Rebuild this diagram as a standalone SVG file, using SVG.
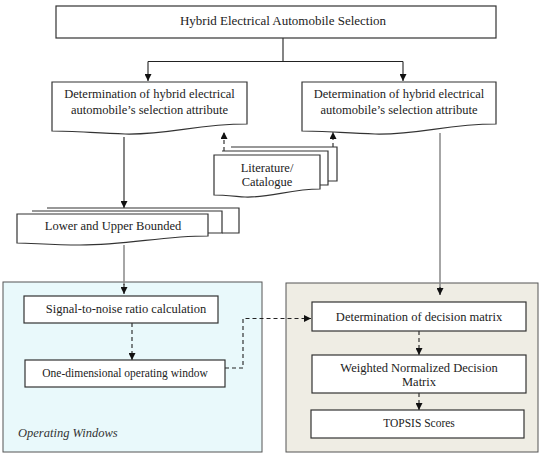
<svg xmlns="http://www.w3.org/2000/svg" width="540" height="456" viewBox="0 0 540 456">
<defs>
<marker id="ah" viewBox="0 0 8 8" refX="8" refY="4" markerWidth="7" markerHeight="7" markerUnits="userSpaceOnUse" orient="auto">
<path d="M0,0 L8,4 L0,8 Z" fill="#111"/>
</marker>
</defs>
<style>
.box{fill:#fff;stroke:#333;stroke-width:1.2}
.t{font-family:"Liberation Serif","Times New Roman",serif;font-size:12.5px;fill:#222;text-anchor:middle}
.ln{fill:none;stroke:#222;stroke-width:1.1}
.gl{fill:none;stroke:#888;stroke-width:1.5}
.dash{fill:none;stroke:#222;stroke-width:1.1;stroke-dasharray:4,3}
</style>
<rect x="3" y="282" width="259" height="170" fill="#e9f9fb" stroke="#555" stroke-width="1"/>
<rect x="286" y="283" width="252" height="169" fill="#efede4" stroke="#555" stroke-width="1"/>
<g id="connectors">
<path class="ln" d="M283,38 V61.5 M148,61.5 H403"/>
<path class="ln" d="M148,61.5 V81" marker-end="url(#ah)"/>
<path class="ln" d="M403,61.5 V81" marker-end="url(#ah)"/>
<path class="ln" d="M124,137 V208" marker-end="url(#ah)"/>
<path class="dash" d="M224,151 V132" marker-end="url(#ah)"/>
<path class="dash" d="M333,147 V132" marker-end="url(#ah)"/>
<path class="gl" d="M124,245 V285"/>
<path class="ln" d="M124,284 V294" marker-end="url(#ah)"/>
<path class="gl" d="M440,133 V288"/>
<path class="ln" d="M440,287 V295" marker-end="url(#ah)"/>
<path class="dash" d="M132,323 V360" marker-end="url(#ah)"/>
<path class="dash" d="M225,368 H243 V318.5 H311" marker-end="url(#ah)"/>
<path class="dash" d="M419,331 V355" marker-end="url(#ah)"/>
<path class="dash" d="M419,393 V410" marker-end="url(#ah)"/>
</g>
<g id="top">
<rect class="box" x="56" y="6" width="440" height="32"/>
<text class="t" x="283" y="25" style="font-size:13px">Hybrid Electrical Automobile Selection</text>
</g>
<g id="attr-left">
<path class="box" d="M52,82 H247 V124 C195,124 170,135 125,134 C95,133 72,131 52,131 Z"/>
<text class="t" x="149.5" y="98">Determination of hybrid electrical</text>
<text class="t" x="149.5" y="114">automobile’s selection attribute</text>
</g>
<g id="attr-right">
<path class="box" d="M302,82 H496 V124 C445,124 420,135 375,134 C345,133 322,131 302,131 Z"/>
<text class="t" x="399" y="98">Determination of hybrid electrical</text>
<text class="t" x="399" y="114">automobile’s selection attribute</text>
</g>
<g id="literature">
<path class="box" d="M231,147 H337 V181 H328"/>
<path class="box" d="M222,151 H328 V185 H320"/>
<path class="box" d="M214,155 H320 V189 C290,189 270,198 245,197 C232,196 222,195 214,195 Z"/>
<text class="t" x="267" y="172">Literature/</text>
<text class="t" x="267" y="186">Catalogue</text>
</g>
<g id="bounded">
<path class="box" d="M47,208 H239 V233 H222"/>
<path class="box" d="M32,211 H222 V233 H208"/>
<path class="box" d="M17,214 H208 V236 C160,236 130,245 80,245 C50,245 32,243 17,243 Z"/>
<text class="t" x="113" y="230">Lower and Upper Bounded</text>
</g>
<g id="snr">
<rect class="box" x="24" y="296" width="194" height="27"/>
<text class="t" x="126" y="313">Signal-to-noise ratio calculation</text>
</g>
<g id="odow">
<rect class="box" x="25" y="360" width="200" height="27"/>
<text class="t" x="125" y="377" style="font-size:11.5px">One-dimensional operating window</text>
</g>
<text x="18" y="437" style="font-family:'Liberation Serif','Times New Roman',serif;font-size:12.5px;font-style:italic;fill:#333">Operating Windows</text>
<g id="decision">
<rect class="box" x="312" y="302" width="214" height="29"/>
<text class="t" x="419" y="320.5">Determination of decision matrix</text>
</g>
<g id="weighted">
<rect class="box" x="312" y="355" width="214" height="38"/>
<text class="t" x="419" y="372">Weighted Normalized Decision</text>
<text class="t" x="419" y="386">Matrix</text>
</g>
<g id="topsis">
<rect class="box" x="311" y="410" width="213" height="28"/>
<text class="t" x="419" y="427" style="font-size:11.5px">TOPSIS Scores</text>
</g>
</svg>
